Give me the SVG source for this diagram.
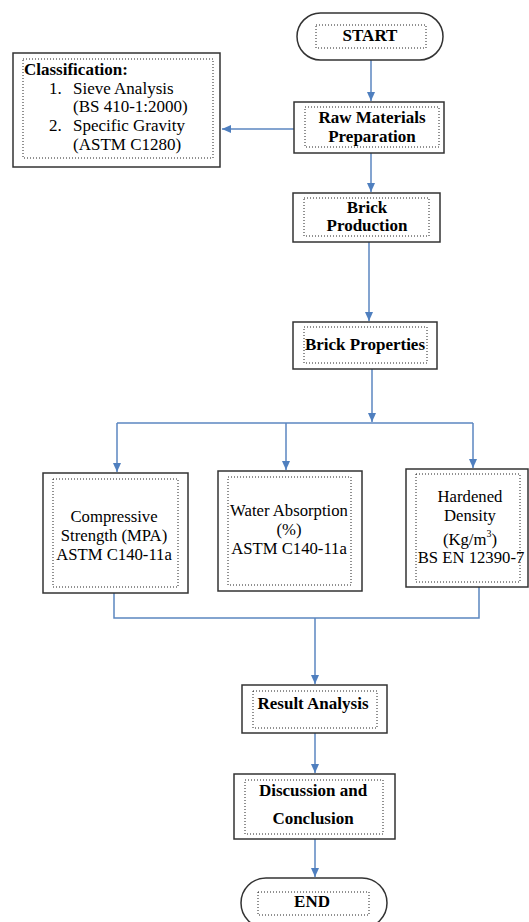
<svg xmlns="http://www.w3.org/2000/svg" width="529" height="922" viewBox="0 0 529 922">
<style>
.box{fill:#fff;stroke:#333;stroke-width:1.5}
.in{fill:none;stroke:#222;stroke-width:1;stroke-dasharray:1 2}
.c{fill:none;stroke:#5b86c0;stroke-width:1.5}
text{font-family:"Liberation Serif","DejaVu Serif",serif;fill:#000}
.b{font-weight:bold;font-size:17px;text-anchor:middle}
.r{font-size:16.7px;text-anchor:middle}
.l{font-size:17px}
</style>
<defs>
<marker id="ah" markerUnits="userSpaceOnUse" markerWidth="10" markerHeight="10" refX="9" refY="5" orient="auto">
<path d="M0,1 L9,5 L0,9 Z" fill="#4f7fbf"/>
</marker>
</defs>
<rect width="529" height="922" fill="#fff"/>
<g id="connectors">
<path class="c" d="M371,60 V101" marker-end="url(#ah)"/>
<path class="c" d="M294,129 H222" marker-end="url(#ah)"/>
<path class="c" d="M371,153 V192" marker-end="url(#ah)"/>
<path class="c" d="M369,242 V321" marker-end="url(#ah)"/>
<path class="c" d="M372,369 V422" marker-end="url(#ah)"/>
<path class="c" d="M117,423 H473"/>
<path class="c" d="M117,423 V472" marker-end="url(#ah)"/>
<path class="c" d="M286,423 V470" marker-end="url(#ah)"/>
<path class="c" d="M473,423 V468" marker-end="url(#ah)"/>
<path class="c" d="M114,593 V618 H479 V587"/>
<path class="c" d="M315,618 V684" marker-end="url(#ah)"/>
<path class="c" d="M315,733 V773" marker-end="url(#ah)"/>
<path class="c" d="M315,839 V877" marker-end="url(#ah)"/>
</g>
<g id="start">
<rect class="box" x="297" y="13" width="146" height="47" rx="23.5"/>
<rect class="in" x="316" y="25" width="110" height="23"/>
<text class="b" x="370" y="41" font-size="16.5">START</text>
</g>
<g id="raw">
<rect class="box" x="294" y="102" width="150" height="51"/>
<rect class="in" x="305" y="107" width="134" height="40"/>
<text class="b" x="372" y="123">Raw Materials</text>
<text class="b" x="372" y="142">Preparation</text>
</g>
<g id="classification">
<rect class="box" x="13" y="53" width="207" height="114"/>
<rect class="in" x="23" y="59" width="190" height="99"/>
<text class="l" x="24" y="75" font-weight="bold" font-size="16.5">Classification:</text>
<text class="l" x="49" y="94">1.</text>
<text class="l" x="73" y="94">Sieve Analysis</text>
<text class="l" x="73" y="112">(BS 410-1:2000)</text>
<text class="l" x="49" y="131">2.</text>
<text class="l" x="73" y="131">Specific Gravity</text>
<text class="l" x="73" y="150">(ASTM C1280)</text>
</g>
<g id="production">
<rect class="box" x="293" y="193" width="147" height="49"/>
<rect class="in" x="304" y="198" width="125" height="38"/>
<text class="b" x="367" y="213">Brick</text>
<text class="b" x="367" y="231">Production</text>
</g>
<g id="properties">
<rect class="box" x="293" y="322" width="144" height="47"/>
<rect class="in" x="304" y="327" width="123" height="36"/>
<text class="b" x="365" y="350">Brick Properties</text>
</g>
<g id="compressive">
<rect class="box" x="43" y="473" width="145" height="120"/>
<rect class="in" x="53" y="479" width="125" height="108"/>
<text class="r" x="114" y="522">Compressive</text>
<text class="r" x="114" y="541">Strength (MPA)</text>
<text class="r" x="114" y="560" font-size="15.5">ASTM C140-11a</text>
</g>
<g id="water">
<rect class="box" x="218" y="471" width="144" height="120"/>
<rect class="in" x="228" y="477" width="123" height="108"/>
<text class="r" x="289" y="516">Water Absorption</text>
<text class="r" x="289" y="535">(%)</text>
<text class="r" x="289" y="554" font-size="15.5">ASTM C140-11a</text>
</g>
<g id="density">
<rect class="box" x="406" y="469" width="122" height="118"/>
<rect class="in" x="416" y="474" width="104" height="108"/>
<text class="r" x="470" y="502">Hardened</text>
<text class="r" x="470" y="521">Density</text>
<text class="r" x="470" y="545">(Kg/m<tspan font-size="10" dy="-8">3</tspan><tspan dy="8">)</tspan></text>
<text class="r" x="471" y="563" font-size="15.2">BS EN 12390-7</text>
</g>
<g id="result">
<rect class="box" x="242" y="685" width="145" height="48"/>
<rect class="in" x="253" y="691" width="124" height="37"/>
<text class="b" x="313" y="709">Result Analysis</text>
</g>
<g id="discussion">
<rect class="box" x="234" y="774" width="161" height="65"/>
<rect class="in" x="245" y="780" width="138" height="54"/>
<text class="b" x="313" y="796">Discussion and</text>
<text class="b" x="313" y="824">Conclusion</text>
</g>
<g id="end">
<rect class="box" x="241" y="878" width="146" height="50" rx="25"/>
<rect class="in" x="258" y="892" width="111" height="23"/>
<text class="b" x="312" y="907">END</text>
</g>
</svg>
